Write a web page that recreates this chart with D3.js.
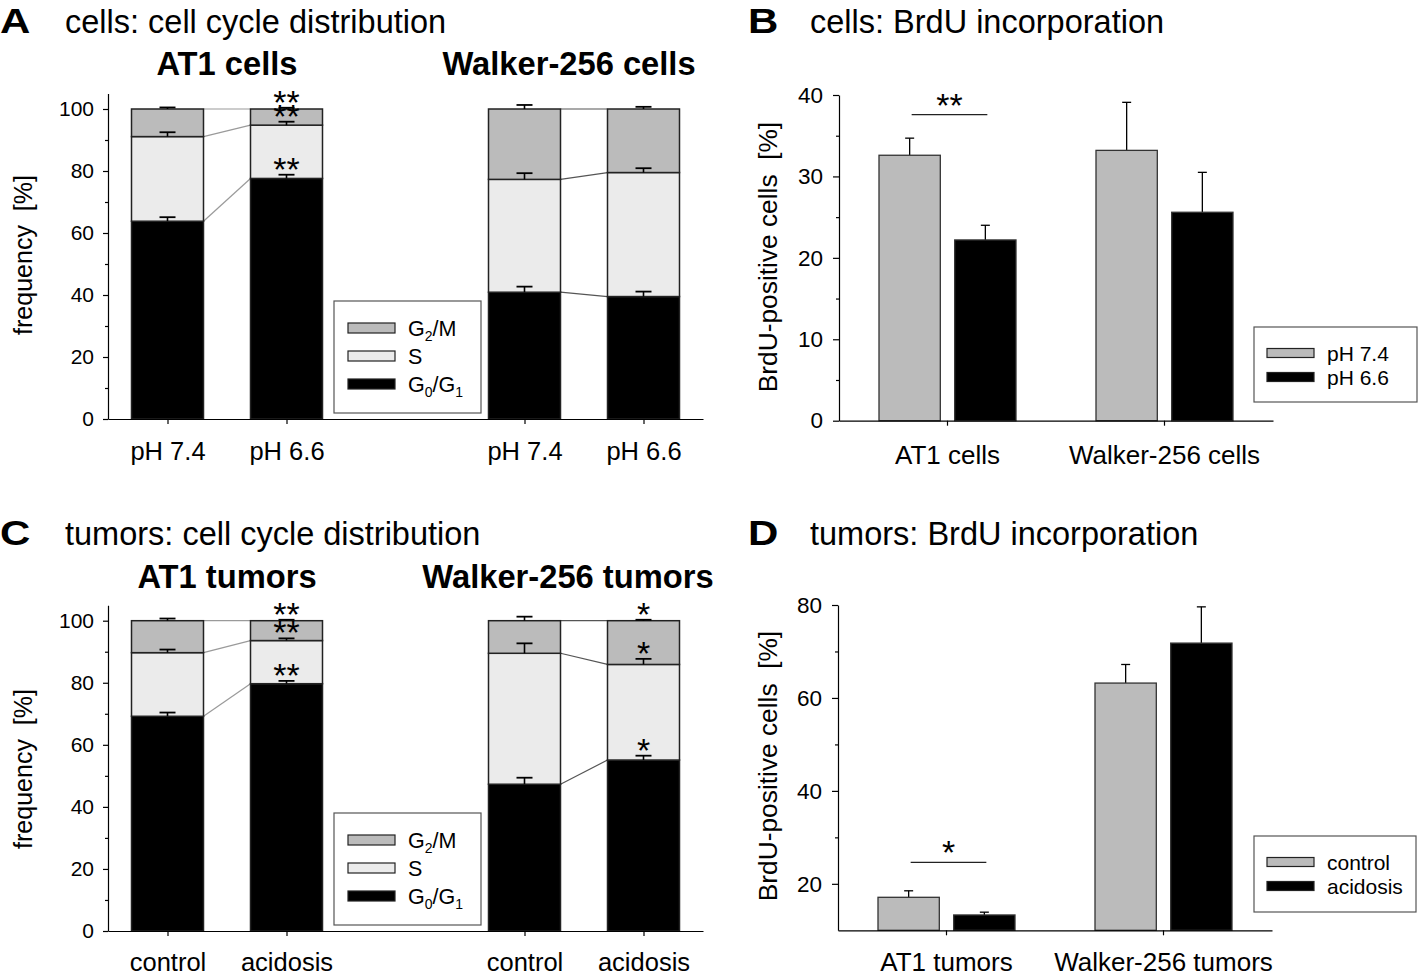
<!DOCTYPE html>
<html><head><meta charset="utf-8">
<script src="https://cdn.jsdelivr.net/npm/d3@7"></script>
<style>
body{margin:0;background:#fff}
text{font-family:"Liberation Sans",Arial,Helvetica,sans-serif;fill:#000}
</style>
</head><body>
<svg id="chart" width="1418" height="975"></svg>
<script>
// ---------------- DATA ----------------
const cycleKeys = ["G0G1", "S", "G2M"];
const cycleTicks = [0, 20, 40, 60, 80, 100];
const cycleMinorTicks = [10, 30, 50, 70, 90];
const barSlots = [0, 1, 3, 4];

const cellsCats = ["pH 7.4", "pH 6.6", "pH 7.4", "pH 6.6"];
const cellsGroups = ["AT1 cells", "Walker-256 cells"];
const cellsG0G1 = [63.8, 77.6, 40.9, 39.5];
const cellsS = [27.3, 17.2, 36.4, 40.0];
const cellsG2M = [8.9, 5.2, 22.7, 20.5];
const cellsG0G1Err = [1.3, 1.2, 1.8, 1.6];
const cellsSErr = [1.4, 1.1, 2.0, 1.4];
const cellsG2MErr = [0.5, 0.4, 1.3, 0.7];
const cellsStars = [["", "", ""], ["**", "**", "**"], ["", "", ""], ["", "", ""]];

const tumorCats = ["control", "acidosis", "control", "acidosis"];
const tumorGroups = ["AT1 tumors", "Walker-256 tumors"];
const tumorG0G1 = [69.2, 79.7, 47.3, 55.1];
const tumorS = [20.5, 13.9, 42.2, 30.8];
const tumorG2M = [10.3, 6.4, 10.5, 14.1];
const tumorG0G1Err = [1.2, 0.9, 2.1, 1.4];
const tumorSErr = [1.0, 0.7, 3.2, 1.8];
const tumorG2MErr = [0.7, 0.3, 1.3, 0.3];
const tumorStars = [["", "", ""], ["**", "**", "**"], ["", "", ""], ["*", "*", "*"]];

const brduCellCats = ["AT1 cells", "Walker-256 cells"];
const brduCellSeries = ["pH 7.4", "pH 6.6"];
const brduCellPH74 = [32.6, 33.2];
const brduCellPH74Err = [2.1, 5.9];
const brduCellPH66 = [22.2, 25.6];
const brduCellPH66Err = [1.8, 4.9];
const brduCellTicks = [0, 10, 20, 30, 40];
const brduCellMinorTicks = [5, 15, 25, 35];
const brduCellSigLevel = [37.6, null];
const brduCellSigLabel = ["**", ""];

const brduTumorCats = ["AT1 tumors", "Walker-256 tumors"];
const brduTumorSeries = ["control", "acidosis"];
const brduTumorControl = [17.1, 63.2];
const brduTumorControlErr = [1.4, 4.0];
const brduTumorAcidosis = [13.3, 71.8];
const brduTumorAcidosisErr = [0.6, 7.8];
const brduTumorTicks = [20, 40, 60, 80];
const brduTumorMinorTicks = [30, 50, 70];
const brduTumorSigLevel = [24.6, null];
const brduTumorSigLabel = ["*", ""];

// ---------------- STYLE ----------------
const cycleColors = {G0G1: "#000000", S: "#ebebeb", G2M: "#bbbbbb"};
const brduColors = ["#bbbbbb", "#000000"];
const FONT = '"Liberation Sans",Arial,sans-serif';
const svg = d3.select("#chart");

function panelHeader(letter, lx, title, tx, by) {
  svg.append("text").attr("transform", `translate(${lx},${by}) scale(1.2,1)`)
    .attr("font-size", 35).attr("font-weight", "bold").text(letter);
  svg.append("text").attr("x", tx).attr("y", by).attr("font-size", 32.5).text(title);
}

function styleAxis(g) {
  g.selectAll("path.domain").attr("stroke", "#000").attr("stroke-width", 1.2);
  g.selectAll(".tick line").attr("stroke", "#000").attr("stroke-width", 1.2);
}

function drawCycle(cfg) {
  const y = d3.scaleLinear().domain([0, 105]).range([cfg.y0, cfg.y0 - 105 * cfg.ppu]);
  const x = d3.scaleLinear().domain([-0.5, 4.5]).range([cfg.xl, cfg.xr]);
  const step = x(1) - x(0);
  const bw = step * 0.605;

  const rows = cfg.G0G1.map((v, i) => ({G0G1: v, S: cfg.S[i], G2M: cfg.G2M[i]}));
  const errs = {G0G1: cfg.G0G1Err, S: cfg.SErr, G2M: cfg.G2MErr};
  const stack = d3.stack().keys(cycleKeys)(rows);

  // connecting lines between paired bars
  const lineColors = ["#9a9a9a", "#555555"];
  [[0, 1], [2, 3]].forEach((pair, pi) => {
    const a = pair[0], b = pair[1];
    stack.forEach(layer => {
      svg.append("line")
        .attr("x1", x(barSlots[a]) + bw / 2).attr("y1", y(layer[a][1]))
        .attr("x2", x(barSlots[b]) - bw / 2).attr("y2", y(layer[b][1]))
        .attr("stroke", lineColors[pi]).attr("stroke-width", 1.2);
    });
  });

  // bars
  stack.forEach(layer => {
    svg.append("g").selectAll("rect").data(layer).join("rect")
      .attr("x", (d, i) => x(barSlots[i]) - bw / 2)
      .attr("width", bw)
      .attr("y", d => y(d[1]))
      .attr("height", d => y(d[0]) - y(d[1]))
      .attr("fill", cycleColors[layer.key])
      .attr("stroke", "#222").attr("stroke-width", 1.5);
  });

  // error bars and stars
  stack.forEach((layer, li) => {
    layer.forEach((d, i) => {
      const cx = x(barSlots[i]);
      const top = d[1];
      const e = errs[layer.key][i];
      svg.append("line").attr("x1", cx).attr("x2", cx)
        .attr("y1", y(top)).attr("y2", y(top + e)).attr("stroke", "#000").attr("stroke-width", 1.6);
      svg.append("line").attr("x1", cx - 8).attr("x2", cx + 8)
        .attr("y1", y(top + e)).attr("y2", y(top + e)).attr("stroke", "#000").attr("stroke-width", 1.8);
      const s = cfg.stars[i][li];
      if (s) {
        svg.append("text").attr("x", cx).attr("y", y(top + e) + 6)
          .attr("text-anchor", "middle").attr("font-size", 34).text(s);
      }
    });
  });

  // axes
  const yAxis = svg.append("g").attr("transform", `translate(${cfg.xl},0)`)
    .call(d3.axisLeft(y).tickValues(cycleTicks).tickSize(5).tickSizeOuter(0).tickPadding(9));
  yAxis.selectAll("text").attr("font-size", 21).style("font-family", FONT);
  styleAxis(yAxis);
  const yMinor = svg.append("g").attr("transform", `translate(${cfg.xl},0)`)
    .call(d3.axisLeft(y).tickValues(cycleMinorTicks).tickSize(3).tickSizeOuter(0).tickFormat(""));
  yMinor.select("path.domain").remove();
  styleAxis(yMinor);

  const xAxis = svg.append("g").attr("transform", `translate(0,${cfg.y0})`)
    .call(d3.axisBottom(x).tickValues(barSlots).tickSize(5).tickSizeOuter(0)
      .tickFormat(v => cfg.cats[barSlots.indexOf(v)]).tickPadding(cfg.xPad));
  xAxis.selectAll("text").attr("font-size", 25.5).style("font-family", FONT);
  styleAxis(xAxis);

  // y label
  svg.append("text").attr("transform", `translate(${cfg.ylx},${cfg.yly}) rotate(-90)`)
    .attr("text-anchor", "middle").attr("font-size", 25).attr("xml:space", "preserve").text("frequency  [%]");

  // group titles
  cfg.groups.forEach((gname, gi) => {
    const cx = (x(barSlots[gi * 2]) + x(barSlots[gi * 2 + 1])) / 2 + cfg.groupShift[gi];
    svg.append("text").attr("x", cx).attr("y", cfg.groupY).attr("text-anchor", "middle")
      .attr("font-size", 32.7).attr("font-weight", "bold").text(gname);
  });

  // legend
  const L = cfg.legend;
  svg.append("rect").attr("x", L.x).attr("y", L.y).attr("width", L.w).attr("height", L.h)
    .attr("fill", "#fff").attr("stroke", "#555").attr("stroke-width", 1.2);
  const legendItems = [
    {key: "G2M", main: "G", sub: "2", rest: "/M"},
    {key: "S", main: "S", sub: "", rest: ""},
    {key: "G0G1", main: "G", sub: "0", rest: "/G", sub2: "1"}
  ];
  legendItems.forEach((it, k) => {
    const cy = L.y + 27 + k * 28;
    svg.append("rect").attr("x", L.x + 14).attr("y", cy - 5).attr("width", 47).attr("height", 10)
      .attr("fill", cycleColors[it.key]).attr("stroke", "#222").attr("stroke-width", 1.2);
    const t = svg.append("text").attr("x", L.x + 74).attr("y", cy + 7.5).attr("font-size", 21.5);
    t.append("tspan").text(it.main);
    if (it.sub) t.append("tspan").attr("font-size", 14).attr("dy", 5).text(it.sub);
    if (it.rest) t.append("tspan").attr("dy", it.sub ? -5 : 0).text(it.rest);
    if (it.sub2) t.append("tspan").attr("font-size", 14).attr("dy", 5).text(it.sub2);
  });
}

function drawBrdU(cfg) {
  const y = d3.scaleLinear().domain(cfg.domain).range([cfg.y0, cfg.yTop]);
  const xg = d3.scaleBand().domain(cfg.cats).range([cfg.xl, cfg.xr]).padding(0);
  const xi = d3.scaleBand().domain(cfg.series).range([40, 177]).paddingInner(0.19).paddingOuter(0);
  const vals = [cfg.v0, cfg.v1];
  const errs = [cfg.e0, cfg.e1];

  cfg.series.forEach((s, si) => {
    cfg.cats.forEach((c, ci) => {
      const bx = xg(c) + xi(s);
      const v = vals[si][ci], e = errs[si][ci];
      const cx = bx + xi.bandwidth() / 2;
      svg.append("line").attr("x1", cx).attr("x2", cx).attr("y1", y(v)).attr("y2", y(v + e))
        .attr("stroke", "#000").attr("stroke-width", 1.3);
      svg.append("line").attr("x1", cx - 4.5).attr("x2", cx + 4.5).attr("y1", y(v + e)).attr("y2", y(v + e))
        .attr("stroke", "#000").attr("stroke-width", 1.3);
      svg.append("rect").attr("x", bx).attr("width", xi.bandwidth())
        .attr("y", y(v)).attr("height", cfg.y0 - y(v))
        .attr("fill", brduColors[si]).attr("stroke", "#333").attr("stroke-width", 1.3);
    });
  });

  // significance
  cfg.cats.forEach((c, ci) => {
    const lvl = cfg.sigLevel[ci];
    if (lvl == null) return;
    const xa = xg(c) + xi(cfg.series[0]) + xi.bandwidth() / 2 + 2;
    const xb = xg(c) + xi(cfg.series[1]) + xi.bandwidth() / 2 + 2;
    svg.append("line").attr("x1", xa).attr("x2", xb).attr("y1", y(lvl)).attr("y2", y(lvl))
      .attr("stroke", "#222").attr("stroke-width", 1.3);
    svg.append("text").attr("x", (xa + xb) / 2).attr("y", y(lvl) + 2)
      .attr("text-anchor", "middle").attr("font-size", 34).text(cfg.sigLabel[ci]);
  });

  const yAxis = svg.append("g").attr("transform", `translate(${cfg.xl},0)`)
    .call(d3.axisLeft(y).tickValues(cfg.ticks).tickSize(6).tickSizeOuter(0).tickPadding(10));
  yAxis.selectAll("text").attr("font-size", 22.5).style("font-family", FONT);
  styleAxis(yAxis);
  const yMinor = svg.append("g").attr("transform", `translate(${cfg.xl},0)`)
    .call(d3.axisLeft(y).tickValues(cfg.minor).tickSize(3).tickSizeOuter(0).tickFormat(""));
  yMinor.select("path.domain").remove();
  styleAxis(yMinor);

  const xAxis = svg.append("g").attr("transform", `translate(0,${cfg.y0})`)
    .call(d3.axisBottom(xg).tickSize(5).tickSizeOuter(0).tickPadding(cfg.xPad));
  xAxis.selectAll("text").attr("font-size", 26).style("font-family", FONT);
  styleAxis(xAxis);

  svg.append("text").attr("transform", `translate(${cfg.ylx},${cfg.yly}) rotate(-90)`)
    .attr("text-anchor", "middle").attr("font-size", 26.3).attr("xml:space", "preserve").text("BrdU-positive cells  [%]");

  const L = cfg.legend;
  svg.append("rect").attr("x", L.x).attr("y", L.y).attr("width", L.w).attr("height", L.h)
    .attr("fill", "#fff").attr("stroke", "#555").attr("stroke-width", 1.2);
  cfg.series.forEach((s, si) => {
    const cy = L.y + 26 + si * 24;
    svg.append("rect").attr("x", L.x + 13).attr("y", cy - 4.5).attr("width", 47).attr("height", 9)
      .attr("fill", brduColors[si]).attr("stroke", "#222").attr("stroke-width", 1.2);
    svg.append("text").attr("x", L.x + 73).attr("y", cy + 7.5).attr("font-size", 21).text(s);
  });
}

// ---------------- PANELS ----------------
panelHeader("A", 0, "cells: cell cycle distribution", 65, 33);
drawCycle({
  xl: 108, xr: 703, y0: 419, ppu: 3.1, xPad: 18,
  cats: cellsCats, groups: cellsGroups, groupShift: [0, -15], groupY: 75,
  G0G1: cellsG0G1, S: cellsS, G2M: cellsG2M,
  G0G1Err: cellsG0G1Err, SErr: cellsSErr, G2MErr: cellsG2MErr, stars: cellsStars,
  ylx: 32, yly: 255,
  legend: {x: 334, y: 301, w: 147, h: 112}
});

panelHeader("C", 0, "tumors: cell cycle distribution", 65, 545);
drawCycle({
  xl: 108, xr: 703, y0: 931, ppu: 3.103, xPad: 17,
  cats: tumorCats, groups: tumorGroups, groupShift: [0, -16], groupY: 588,
  G0G1: tumorG0G1, S: tumorS, G2M: tumorG2M,
  G0G1Err: tumorG0G1Err, SErr: tumorSErr, G2MErr: tumorG2MErr, stars: tumorStars,
  ylx: 32, yly: 769,
  legend: {x: 334, y: 813, w: 147, h: 112}
});

panelHeader("B", 748, "cells: BrdU incorporation", 810, 33);
drawBrdU({
  xl: 839, xr: 1273, y0: 420.7, yTop: 95, domain: [0, 40], xPad: 20,
  cats: brduCellCats, series: brduCellSeries,
  v0: brduCellPH74, e0: brduCellPH74Err, v1: brduCellPH66, e1: brduCellPH66Err,
  ticks: brduCellTicks, minor: brduCellMinorTicks,
  sigLevel: brduCellSigLevel, sigLabel: brduCellSigLabel,
  ylx: 777, yly: 257,
  legend: {x: 1254, y: 327, w: 163, h: 75}
});

panelHeader("D", 748, "tumors: BrdU incorporation", 810, 545);
drawBrdU({
  xl: 838, xr: 1272, y0: 930.3, yTop: 605, domain: [10, 80], xPad: 17,
  cats: brduTumorCats, series: brduTumorSeries,
  v0: brduTumorControl, e0: brduTumorControlErr, v1: brduTumorAcidosis, e1: brduTumorAcidosisErr,
  ticks: brduTumorTicks, minor: brduTumorMinorTicks,
  sigLevel: brduTumorSigLevel, sigLabel: brduTumorSigLabel,
  ylx: 777, yly: 766,
  legend: {x: 1254, y: 836, w: 162, h: 76}
});
</script>
</body></html>
